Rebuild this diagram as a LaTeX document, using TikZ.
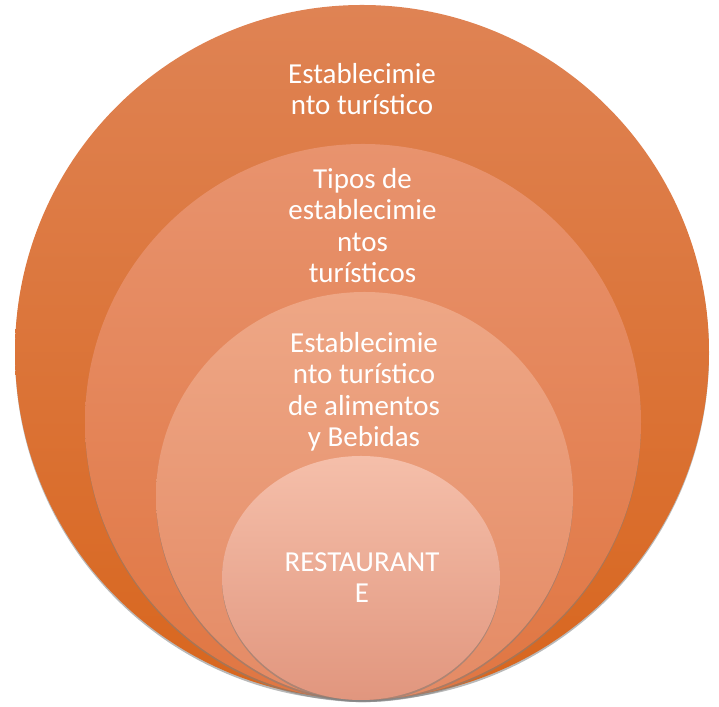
\documentclass[tikz,border=0pt]{standalone}
\usepackage{fontspec}
\setmainfont{Carlito}
\usetikzlibrary{shadows}
\definecolor{capaUnoA}{RGB}{223,131,84}
\definecolor{capaUnoB}{RGB}{216,102,30}
\definecolor{capaDosA}{RGB}{232,147,110}
\definecolor{capaDosB}{RGB}{224,118,66}
\definecolor{capaTresA}{RGB}{238,167,134}
\definecolor{capaTresB}{RGB}{228,138,100}
\definecolor{capaCuatroA}{RGB}{245,191,170}
\definecolor{capaCuatroB}{RGB}{225,150,126}
\begin{document}
\begin{tikzpicture}[x=0.025cm,y=0.025cm,
		capa/.style={drop shadow={shadow xshift=0pt,shadow yshift=-1.5pt,opacity=0.55}},
		texto/.style={text=white,align=center,inner sep=0pt,anchor=base,
			font=\fontsize{20.6}{22.5}\selectfont}]
	\useasboundingbox (0,0) rectangle (719,707);
	\path[capa,top color=capaUnoA,bottom color=capaUnoB] (362,355) circle (347);
	\path[capa,top color=capaDosA,bottom color=capaDosB] (363,285) circle (278);
	\path[capa,top color=capaTresA,bottom color=capaTresB] (364.5,211) ellipse (208.5 and 204);
	\path[capa,top color=capaCuatroA,bottom color=capaCuatroB] (361,129) ellipse (139 and 122);
	% base = ultima linea
	\node[texto] (uno) at (362,592) {Establecimie\\nto turístico};
	\node[texto] (dos) at (362.5,424) {Tipos de\\establecimie\\ntos\\turísticos};
	\node[texto] (tres) at (364,260) {Establecimie\\nto turístico\\de alimentos\\y Bebidas};
	\node[texto] (cuatro) at (362,104) {RESTAURANT\\E};
\end{tikzpicture}
\end{document}
